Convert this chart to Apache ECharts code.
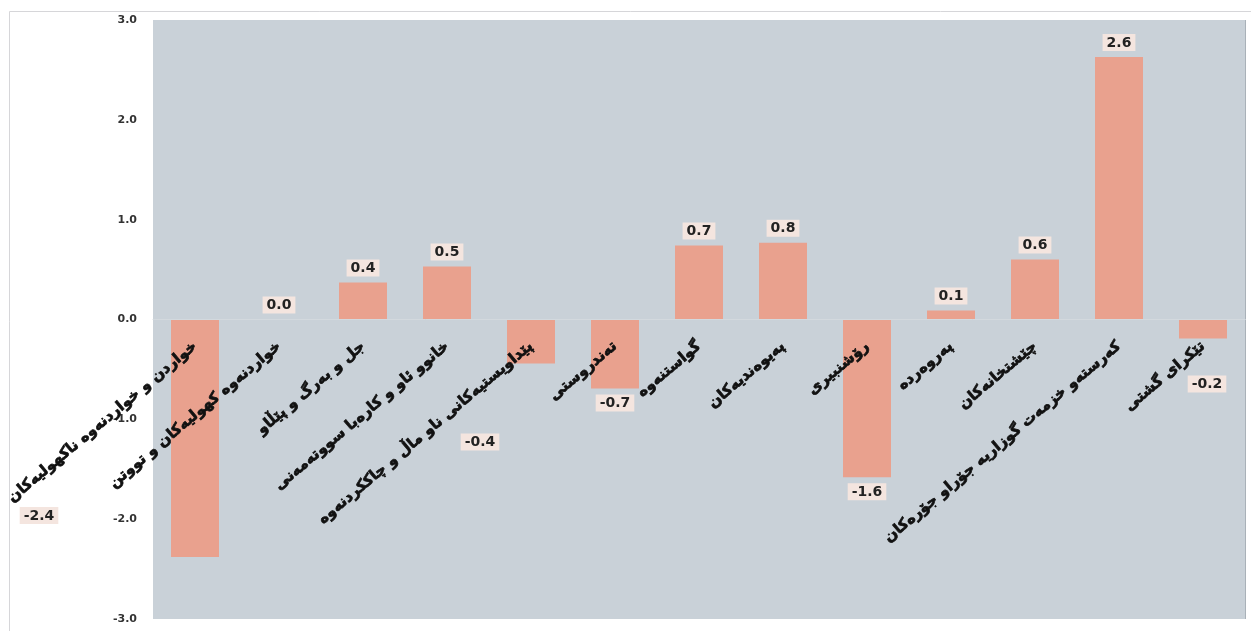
<!DOCTYPE html>
<html>
<head>
<meta charset="utf-8">
<script src="https://cdn.jsdelivr.net/npm/echarts@6/dist/echarts.min.js"></script>
<style>
html,body{margin:0;padding:0;background:#fff;}
#chart{width:1251px;height:631px;}
</style>
</head>
<body>
<div id="chart"></div>
<script>
const categories = [
  "خواردن و خواردنەوە ناکهولیەکان",
  "خواردنەوە کهولیەکان و تووتن",
  "جل و بەرگ و پێڵاو",
  "خانوو ئاو و کارەبا سووتەمەنی",
  "پێداویستیەکانی ناو ماڵ و چاککردنەوە",
  "تەندروستی",
  "گواستنەوە",
  "پەیوەندیەکان",
  "رۆشنبیری",
  "پەروەردە",
  "چێشتخانەکان",
  "کەرستەو خزمەت گوزاریە جۆراو جۆرەکان",
  "تێکرای گشتی"
];
const values = [-2.38, 0.0, 0.37, 0.53, -0.44, -0.69, 0.74, 0.77, -1.58, 0.09, 0.6, 2.63, -0.19];
const yTicks = [-3, -2, -1, 0, 1, 2, 3];

// label placement tweaks (styling only)
const labelShift = {0: [-156, -56], 4: [-51, 64], 12: [4, 31]};

const barColor = '#e9a18e';
const data = values.map((v, i) => {
  const lab = {position: v < 0 ? 'bottom' : 'top'};
  if (labelShift[i]) lab.offset = labelShift[i];
  return {value: v, label: lab};
});

const gridTop = 20, gridBottom = 12, H = 631;
const plotH = H - gridTop - gridBottom;
const zeroFromBottom = plotH * (0 - yTicks[0]) / (yTicks[yTicks.length - 1] - yTicks[0]);

const chart = echarts.init(document.getElementById('chart'), null, {renderer: 'canvas'});
chart.setOption({
  animation: false,
  backgroundColor: '#ffffff',
  grid: {
    left: 153, right: 6, top: gridTop, bottom: gridBottom,
    outerBoundsMode: 'none', containLabel: false,
    show: true, backgroundColor: '#c9d1d8', borderWidth: 0
  },
  xAxis: {
    type: 'category',
    data: categories,
    offset: -zeroFromBottom,
    z: 10,
    axisLine: {onZero: false, lineStyle: {color: '#d3d9de', width: 1}},
    axisTick: {show: false},
    axisLabel: {
      interval: 0, rotate: 40, margin: 25,
      fontFamily: 'DejaVu Sans', fontWeight: 'bold', fontSize: 15, color: '#111',
      textBorderColor: '#111', textBorderWidth: 0.7
    },
    splitLine: {show: false}
  },
  yAxis: {
    type: 'value',
    min: yTicks[0], max: yTicks[yTicks.length - 1], interval: 1,
    axisLine: {show: false},
    axisTick: {show: false},
    splitLine: {show: false},
    axisLabel: {
      margin: 16, fontFamily: 'DejaVu Sans', fontWeight: 'bold', fontSize: 11, color: '#333',
      formatter: v => v.toFixed(1)
    }
  },
  series: [{
    type: 'bar',
    data: data,
    barWidth: 48,
    itemStyle: {color: barColor},
    label: {
      show: true,
      distance: 6,
      formatter: p => p.value.toFixed(1),
      fontFamily: 'DejaVu Sans', fontWeight: 'bold', fontSize: 14, color: '#222',
      backgroundColor: '#f4e5df', padding: [2, 4, 1, 4]
    }
  }],
  graphic: [
    {type: 'line', shape: {x1: 9.5, y1: 11.5, x2: 1251, y2: 11.5}, style: {stroke: '#d6d6d9', lineWidth: 1}, silent: true},
    {type: 'line', shape: {x1: 9.5, y1: 11.5, x2: 9.5, y2: 631}, style: {stroke: '#d6d6d9', lineWidth: 1}, silent: true},
    {type: 'line', shape: {x1: 1245.5, y1: 20, x2: 1245.5, y2: 619}, style: {stroke: '#a9b1b8', lineWidth: 1}, silent: true}
  ]
});
</script>
</body>
</html>
